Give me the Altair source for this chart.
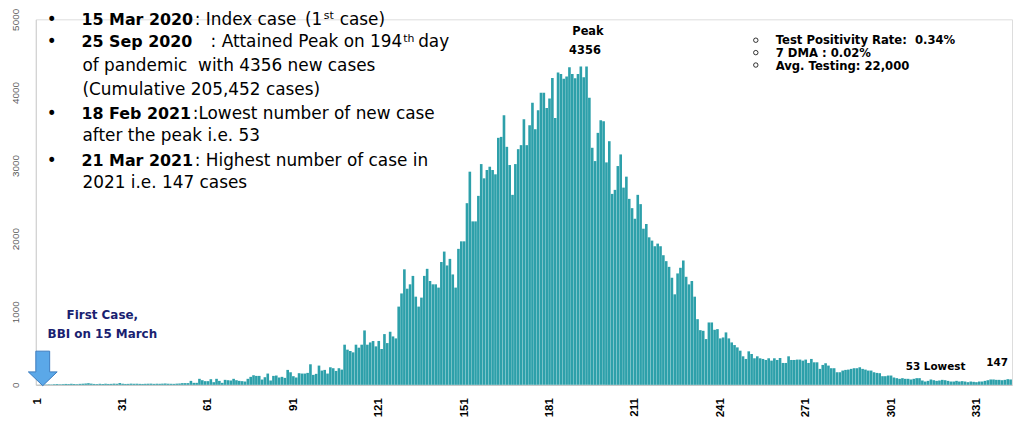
import altair as alt
import pandas as pd

# ---- data: daily new cases, day 1 = 15 Mar 2020 ----
cases_d001_051 = [1, 2, 3, 4, 6, 5, 8, 10, 7, 9,
                  12, 10, 14, 11, 9, 13, 15, 18, 22, 16,
                  12, 10, 14, 11, 15, 12, 13, 16, 14, 24,
                  15, 12, 13, 16, 14, 15, 13, 12, 14, 15,
                  16, 13, 15, 14, 16, 18, 15, 14, 13, 16,
                  18]
cases_d052_108 = [23, 23, 23, 54, 27, 27, 82, 63, 50, 50,
                  77, 36, 82, 54, 27, 68, 63, 59, 82, 63,
                  54, 50, 45, 82, 109, 131, 122, 122, 72, 104,
                  154, 59, 122, 127, 100, 109, 95, 204, 172, 118,
                  100, 159, 154, 154, 163, 281, 136, 150, 263, 195,
                  204, 154, 240, 227, 190, 227, 208]
cases_d109_120 = [549, 481, 463, 444, 549, 508, 549, 744, 549, 580, 599, 526]
cases_d121_154 = [600, 490, 694, 571, 726, 662, 635, 1070, 1250, 1580,
                  1315, 1375, 1490, 1206, 1070, 1193, 1490, 1587, 1420, 1375,
                  1375, 1330, 1680, 1823, 1633, 1723, 1510, 1330, 1860, 1963,
                  1963, 2485, 2916, 2236]
cases_d155_197 = [2236, 2585, 3020, 2825, 2939, 2984, 2939, 2880, 3379, 3392,
                  3687, 3256, 3007, 2599, 3020, 3224, 3279, 3633, 3279, 3551,
                  3859, 3497, 3755, 3995, 3995, 3787, 3918, 4199, 3651, 4272,
                  4254, 4186, 4218, 4345, 4254, 4195, 4254, 4354, 4209, 4356,
                  3927, 3243, 3061]
cases_d198_238 = [3447, 3619, 3605, 3043, 3333, 2612, 2667, 2993, 3152, 2698,
                  2848, 2544, 2417, 2272, 2599, 2472, 2136, 2200, 2018, 1973,
                  1896, 1932, 1896, 1773, 1692, 1614, 1465, 1238, 1524, 1601,
                  1701, 1478, 1374, 1420, 1206, 898, 748, 739, 626, 853,
                  853]
cases_d239_343 = [753, 762, 635, 648, 717, 635, 580, 544, 512, 467,
                  390, 354, 458, 422, 363, 390, 363, 354, 340, 363,
                  331, 363, 340, 367, 299, 299, 390, 340, 340, 345,
                  345, 331, 345, 299, 354, 308, 308, 218, 272, 295,
                  263, 227, 227, 172, 172, 195, 204, 208, 218, 227,
                  227, 240, 218, 208, 195, 195, 172, 163, 159, 118,
                  118, 127, 127, 100, 91, 82, 91, 82, 82, 73,
                  82, 91, 91, 59, 45, 54, 73, 63, 54, 59,
                  68, 63, 54, 45, 45, 54, 45, 50, 45, 36,
                  45, 41, 36, 45, 45, 54, 63, 73, 73, 68,
                  68, 63, 68, 77, 73]

cases = (cases_d001_051 + cases_d052_108 + cases_d109_120 + cases_d121_154
         + cases_d155_197 + cases_d198_238 + cases_d239_343)
days = list(range(1, len(cases) + 1))
x_tick_days = [1, 31, 61, 91, 121, 151, 181, 211, 241, 271, 301, 331]
y_ticks = [0, 1000, 2000, 3000, 4000, 5000]

notes_left = [
    "15 Mar 2020", ": Index case", "(1", "st", "case)",
    "25 Sep 2020", ": Attained Peak on 194", "th", "day",
    "of pandemic\u00a0 with 4356 new cases",
    "(Cumulative 205,452 cases)",
    "18 Feb 2021", ":Lowest number of new case",
    "after the peak i.e. 53",
    "21 Mar 2021", ": Highest number of case in",
    "2021 i.e. 147 cases",
]
notes_right = ["Test Positivity Rate:\u00a0 0.34%", "7 DMA : 0.02%", "Avg. Testing: 22,000"]
first_case = ["First Case,", "BBI on 15 March"]
peak_text = ["Peak", "4356"]
low_text = ["53 Lowest", "147"]

df = pd.DataFrame({"day": days, "cases": cases})

X0, Y0 = 36, 18  # plot origin on the page

bars = alt.Chart(df).transform_calculate(
    d0="datum.day - 0.46", d1="datum.day + 0.46"
).mark_bar(color="#2DA0AA").encode(
    x=alt.X("d0:Q",
            scale=alt.Scale(domain=[0.5, len(days) + 0.5], nice=False, zero=False),
            axis=alt.Axis(values=x_tick_days, labelAngle=270, labelFont="Liberation Sans",
                          labelFontWeight="bold", labelFontSize=11.5, labelColor="black",
                          labelAlign="right", labelBaseline="middle", labelFlush=False,
                          ticks=False, labelPadding=13, labelOverlap=False,
                          domainColor="#BFBFBF", grid=False, title=None)),
    x2="d1:Q",
    y=alt.Y("cases:Q",
            scale=alt.Scale(domain=[0, 5000], nice=False),
            axis=alt.Axis(values=y_ticks, format="d", labelAngle=270, labelFont="Liberation Sans",
                          labelFontSize=10, labelColor="#595959", labelAlign="center",
                          labelBaseline="bottom", ticks=False, labelPadding=15,
                          labelOverlap=False, labelFlush=False,
                          domainColor="#D0D0D0", grid=False, title=None)),
    y2=alt.datum(0),
)


def txt(s, px, py, size=17, bold=False, color="black", align="left", font="DejaVu Sans"):
    return alt.Chart(pd.DataFrame({"t": [s]})).mark_text(
        align=align, baseline="alphabetic", fontSize=size,
        fontWeight="bold" if bold else "normal", font=font, color=color,
    ).encode(text="t:N", x=alt.value(px - X0), y=alt.value(py - Y0))


layers = [bars]
B = 16
# left notes
layers += [
    txt(notes_left[0], 82, 23.3, B, True), txt(notes_left[1], 196, 23.3),
    txt(notes_left[2], 307, 23.3), txt(notes_left[3], 326, 18, 11), txt(notes_left[4], 342, 23.3),
    txt(notes_left[5], 82, 45.7, B, True), txt(notes_left[6], 212, 45.7),
    txt(notes_left[7], 406, 40.3, 11), txt(notes_left[8], 421, 45.7),
    txt(notes_left[9], 83, 70),
    txt(notes_left[10], 83, 94),
    txt(notes_left[11], 82, 118, B, True), txt(notes_left[12], 194, 118),
    txt(notes_left[13], 83, 140),
    txt(notes_left[14], 82, 165.7, B, True), txt(notes_left[15], 196, 165.7),
    txt(notes_left[16], 83, 188),
]
for by in [23.3, 45.7, 118, 165.7]:
    layers.append(txt("\u2022", 52, by, 17, align="center"))

# right box
for s, by in zip(notes_right, [43, 56, 68.5]):
    layers.append(txt(s, 781, by, 11.7, True))
circ = alt.Chart(pd.DataFrame({"k": [0]})).mark_point(
    shape="circle", filled=False, stroke="black", strokeWidth=0.8, size=20, opacity=1
)
for cy in [39, 51.5, 64]:
    layers.append(circ.encode(x=alt.value(761 - X0), y=alt.value(cy - Y0)))

# peak / low labels
layers += [
    txt(peak_text[0], 592, 34, 11.5, True, align="center"),
    txt(peak_text[1], 589, 52.5, 11.5, True, align="center"),
    txt(low_text[0], 942, 371, 10.5, True, align="center"),
    txt(low_text[1], 1004, 367, 10.5, True, align="center"),
]

# first case label and arrow
navy = "#1A1F71"
layers += [
    txt(first_case[0], 103, 320, 12, True, navy, align="center"),
    txt(first_case[1], 103, 339, 12, True, navy, align="center"),
]
arrow_path = "M-0.48,-1.2 L0.48,-1.2 L0.48,0.24 L1,0.24 L0,1.2 L-1,0.24 L-0.48,0.24 Z"
layers.append(
    alt.Chart(pd.DataFrame({"k": [0]})).mark_point(
        shape=arrow_path, filled=True, fill="#5BA8E8", stroke="#3C7DC0",
        strokeWidth=1, size=841, opacity=1,
    ).encode(x=alt.value(43 - X0), y=alt.value(369.5 - Y0))
)

chart = alt.layer(*layers).properties(
    width=983, height=368,
    autosize=alt.AutoSizeParams(type="none"),
    padding={"left": 28, "top": 10, "right": 2, "bottom": 35},
).configure_view(stroke=None).configure(background="white")

chart.save("out.html", embed_options={"renderer": "svg", "actions": False})
